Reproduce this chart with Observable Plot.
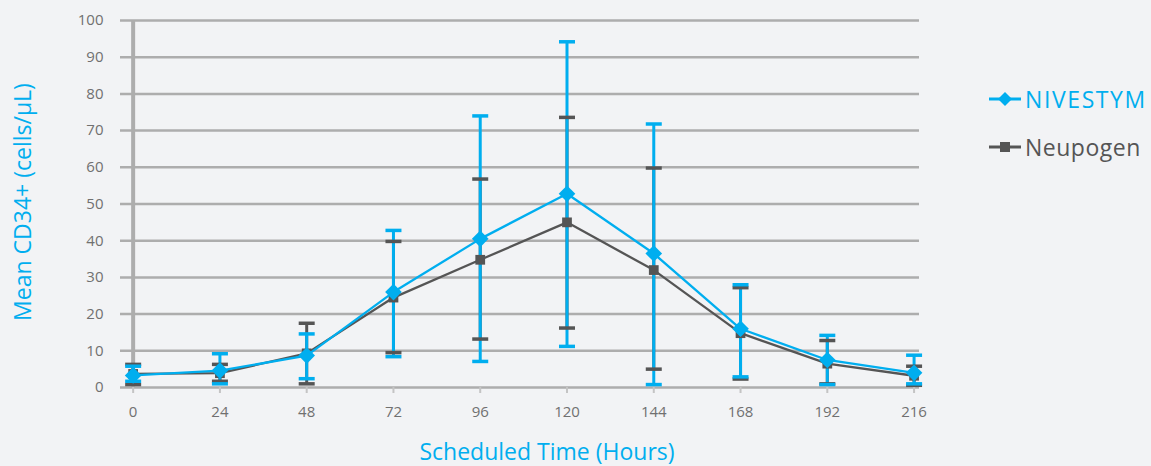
<!DOCTYPE html>
<html><head><meta charset="utf-8">
<script src="https://cdn.jsdelivr.net/npm/d3@7"></script>
<script src="https://cdn.jsdelivr.net/npm/@observablehq/plot@0.6"></script>
<style>
body{margin:0;background:#f2f3f5;font-family:"Open Sans",sans-serif;}
#wrap{position:relative;width:1151px;height:466px;overflow:hidden}
#legend{position:absolute;left:988px;top:82px;}
.item{display:flex;align-items:center;height:34px;font-size:23px;letter-spacing:0.9px;margin-bottom:14px;white-space:nowrap}
.item svg{margin-right:3px}
.item.caps{letter-spacing:1.6px}
.item.low{letter-spacing:0.5px}
</style></head><body><div id="wrap"><div id="legend"></div></div>
<script>
const hours   = [0, 24, 48, 72, 96, 120, 144, 168, 192, 216];
const nivMean = [3.3, 4.6, 8.7, 26.0, 40.5, 52.8, 36.5, 16.0, 7.5, 4.0];
const nivLow  = [1.7, 1.0, 2.4, 8.4, 7.1, 11.2, 0.8, 2.9, 0.8, 1.0];
const nivHigh = [5.8, 9.2, 14.6, 42.8, 74.0, 94.2, 71.8, 28.0, 14.2, 8.8];
const neuMean = [3.7, 3.9, 9.3, 24.5, 34.8, 45.0, 32.0, 14.8, 6.5, 3.2];
const neuLow  = [0.8, 1.7, 1.0, 9.5, 13.2, 16.2, 5.0, 2.3, 1.0, 0.6];
const neuHigh = [6.3, 6.3, 17.5, 39.8, 56.8, 73.6, 59.8, 27.2, 12.8, 5.8];
const yTicks  = [0, 10, 20, 30, 40, 50, 60, 70, 80, 90, 100];
const seriesNames = ["NIVESTYM", "Neupogen"];
const xLabel = "Scheduled Time (Hours)";
const yLabel = "Mean CD34+ (cells/µL)";

const BLUE = "#00aeef", GRAY = "#555555", GRID = "#adadad";

const niv = hours.map((h, i) => ({h, m: nivMean[i], lo: nivLow[i], hi: nivHigh[i]}));
const neu = hours.map((h, i) => ({h, m: neuMean[i], lo: neuLow[i], hi: neuHigh[i]}));

const cap = {draw(ctx, size) { const r = Math.sqrt(size / Math.PI); ctx.moveTo(-r, 0); ctx.lineTo(r, 0); }};

const chart = Plot.plot({
  width: 1151, height: 466,
  marginLeft: 120, marginRight: 232, marginTop: 20, marginBottom: 79,
  style: {background: "transparent", fontFamily: "'Open Sans', sans-serif", fontSize: "15px"},
  x: {domain: [-3.5, 217.5], label: null},
  y: {domain: [0, 100], label: null},
  marks: [
    Plot.ruleY(yTicks, {stroke: GRID, strokeWidth: 2.5}),
    Plot.ruleX([0], {y1: yTicks[0], y2: yTicks[yTicks.length - 1], stroke: GRID, strokeWidth: 4}),
    Plot.axisX({ticks: hours, tickSize: 6, tickPadding: 13, stroke: "#c4c4c4", strokeWidth: 2, fill: "#707070", fontSize: 15, label: null}),
    Plot.axisY({ticks: yTicks, tickSize: 0, tickPadding: 17, fill: "#707070", fontSize: 15, label: null}),
    // error bar stems
    Plot.ruleX(neu, {x: "h", y1: "lo", y2: "hi", stroke: GRAY, strokeWidth: 3}),
    Plot.ruleX(niv, {x: "h", y1: "lo", y2: "hi", stroke: BLUE, strokeWidth: 3}),
    // caps
    Plot.dot(neu, {x: "h", y: "lo", symbol: cap, r: 8, stroke: GRAY, strokeWidth: 3.5}),
    Plot.dot(neu, {x: "h", y: "hi", symbol: cap, r: 8, stroke: GRAY, strokeWidth: 3.5}),
    Plot.dot(niv, {x: "h", y: "lo", symbol: cap, r: 8, stroke: BLUE, strokeWidth: 3.5}),
    Plot.dot(niv, {x: "h", y: "hi", symbol: cap, r: 8, stroke: BLUE, strokeWidth: 3.5}),
    // lines and markers
    Plot.line(neu, {x: "h", y: "m", stroke: GRAY, strokeWidth: 2.3}),
    Plot.dot(neu, {x: "h", y: "m", symbol: "square", r: 5.5, fill: GRAY, stroke: "none"}),
    Plot.line(niv, {x: "h", y: "m", stroke: BLUE, strokeWidth: 2.3}),
    Plot.dot(niv, {x: "h", y: "m", symbol: "diamond2", r: 7.5, fill: BLUE, stroke: "none"}),
    // axis titles
    Plot.text([yLabel], {frameAnchor: "left", textAnchor: "middle", lineAnchor: "middle", dx: -97, dy: -2, rotate: -90, fill: BLUE, fontSize: 23, letterSpacing: 0.9}),
    Plot.text([xLabel], {frameAnchor: "bottom", textAnchor: "middle", lineAnchor: "middle", dx: 27, dy: 65, fill: BLUE, fontSize: 23, letterSpacing: 0.7})
  ]
});
document.getElementById("wrap").prepend(chart);

const legend = document.getElementById("legend");
const symbols = [
  `<svg width="34" height="16"><line x1="1" y1="8" x2="33" y2="8" stroke="${BLUE}" stroke-width="3"/><path d="M17,1 L24,8 L17,15 L10,8 Z" fill="${BLUE}"/></svg>`,
  `<svg width="34" height="16"><line x1="1" y1="8" x2="33" y2="8" stroke="${GRAY}" stroke-width="3"/><rect x="12" y="3" width="10" height="10" fill="${GRAY}"/></svg>`
];
const colors = [BLUE, GRAY];
const cls = ["caps", "low"];
seriesNames.forEach((n, i) => {
  const d = document.createElement("div");
  d.className = "item " + cls[i];
  d.innerHTML = symbols[i] + `<span style="color:${colors[i]}">${n}</span>`;
  legend.appendChild(d);
});
</script>
</body></html>
